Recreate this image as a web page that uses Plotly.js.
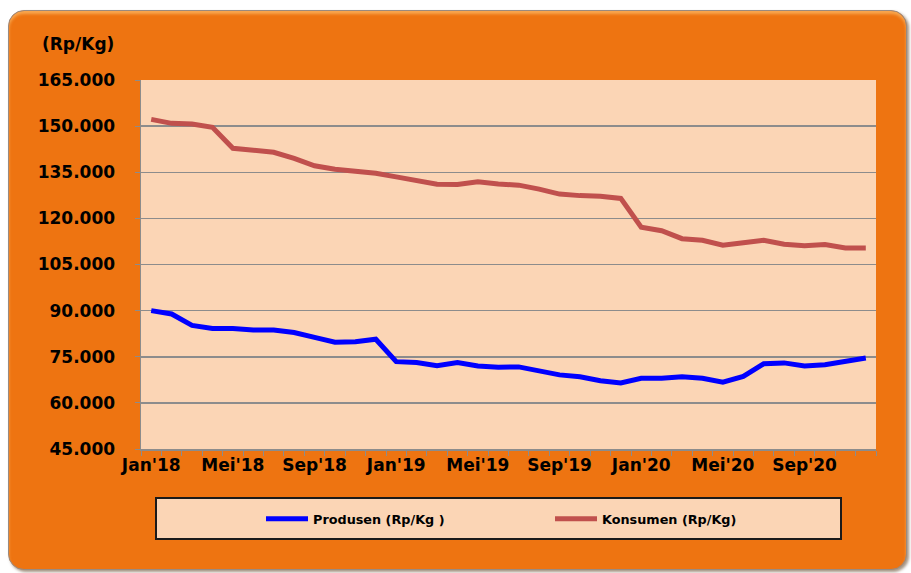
<!DOCTYPE html>
<html>
<head>
<meta charset="utf-8">
<script src="https://cdn.plot.ly/plotly-3.0.1.min.js"></script>
<style>
  html, body { margin: 0; padding: 0; background: #ffffff; }
  #frame {
    position: absolute; left: 8px; top: 10px; width: 899px; height: 560px;
    background: #EE7411; border-radius: 16px; border: 1px solid #9a8a80;
    box-shadow: 2px 2px 3px rgba(90,60,30,0.55), inset 0 3px 3px rgba(255,200,120,0.6);
    box-sizing: border-box;
  }
  #chart { position: absolute; left: 0; top: 0; width: 911px; height: 573px; }
</style>
</head>
<body>
<div id="frame"></div>
<div id="chart"></div>
<script>
// Months Jan 2018 .. Dec 2020
const months = [
  "Jan'18","Feb'18","Mar'18","Apr'18","Mei'18","Jun'18","Jul'18","Agu'18","Sep'18","Okt'18","Nov'18","Des'18",
  "Jan'19","Feb'19","Mar'19","Apr'19","Mei'19","Jun'19","Jul'19","Agu'19","Sep'19","Okt'19","Nov'19","Des'19",
  "Jan'20","Feb'20","Mar'20","Apr'20","Mei'20","Jun'20","Jul'20","Agu'20","Sep'20","Okt'20","Nov'20","Des'20"
];
const tickLabels = ["Jan'18","Mei'18","Sep'18","Jan'19","Mei'19","Sep'19","Jan'20","Mei'20","Sep'20"];

const produsen = [
  90000, 88900, 85200, 84200, 84200, 83700, 83700, 82900, 81300, 79700, 79900, 80700,
  73400, 73100, 72100, 73100, 72000, 71600, 71700, 70300, 69100, 68500, 67200, 66500,
  68000, 68000, 68500, 68000, 66700, 68600, 72700, 73000, 72000, 72400, 73300, 74600
];
const konsumen = [
  152200, 150900, 150700, 149600, 142800, 142200, 141500, 139500, 137100, 136000, 135300, 134700,
  133500, 132200, 131100, 131000, 131900, 131200, 130800, 129500, 127900, 127400, 127200, 126500,
  117100, 116000, 113400, 112900, 111300, 112100, 112900, 111600, 111100, 111500, 110400, 110400
];

const seriesNames = ["Produsen (Rp/Kg )", "Konsumen (Rp/Kg)"];
const yTicks = [45000, 60000, 75000, 90000, 105000, 120000, 135000, 150000, 165000];

const fontFam = "'DejaVu Sans', Verdana, sans-serif";

const traces = [
  { x: months, y: produsen, name: seriesNames[0], type: 'scatter', mode: 'lines',
    line: { color: '#0000FF', width: 5 }, legend: 'legend' },
  { x: months, y: konsumen, name: seriesNames[1], type: 'scatter', mode: 'lines',
    line: { color: '#C0504D', width: 5 }, legend: 'legend2' }
];

const PW = 735, PH = 369, PL = 141, PB = 449;
const px2x = p => (p - PL) / PW;
const px2y = p => (PB - p) / PH;

const legendBase = {
  orientation: 'h',
  xref: 'paper', yref: 'paper',
  xanchor: 'left', yanchor: 'middle',
  bgcolor: 'rgba(0,0,0,0)', borderwidth: 0,
  itemwidth: 42,
  font: { family: fontFam, size: 12.8, color: '#000', weight: 'bold' }
};

const layout = {
  width: 911, height: 573,
  margin: { l: 141, r: 35, t: 80, b: 124 },
  paper_bgcolor: 'rgba(0,0,0,0)',
  plot_bgcolor: '#FBD5B5',
  separators: ',.',
  showlegend: true,
  font: { family: fontFam, color: '#000000' },
  xaxis: {
    type: 'category',
    categoryorder: 'array', categoryarray: months,
    range: [-0.5, months.length - 0.5],
    tickmode: 'array',
    tickvals: months,
    ticktext: months.map(m => tickLabels.includes(m) ? m : ''),
    tickson: 'boundaries',
    ticks: 'outside', ticklen: 5, tickcolor: '#8c8c8c', tickwidth: 1,
    showgrid: false, showline: true, linecolor: '#8c8c8c', linewidth: 1.5,
    tickangle: 0,
    tickfont: { family: fontFam, size: 17, color: '#000', weight: 'bold' },
    zeroline: false, fixedrange: true
  },
  yaxis: {
    range: [45000, 165000],
    tickmode: 'array', tickvals: yTicks,
    tickformat: ',d',
    ticks: 'outside', ticklen: 5, tickcolor: '#8c8c8c', tickwidth: 1,
    showgrid: true, gridcolor: '#8c8c8c', gridwidth: 1.5,
    showline: true, linecolor: '#8c8c8c', linewidth: 1.5,
    tickfont: { family: fontFam, size: 17, color: '#000', weight: 'bold' },
    ticklabelstandoff: 16,
    zeroline: false, fixedrange: true
  },
  legend: Object.assign({}, legendBase, { x: px2x(261), y: px2y(519) }),
  legend2: Object.assign({}, legendBase, { x: px2x(550), y: px2y(519) }),
  shapes: [
    { type: 'rect', xref: 'paper', yref: 'paper',
      x0: px2x(156), x1: px2x(841),
      y0: px2y(498), y1: px2y(539),
      fillcolor: '#FBD5B5', line: { color: '#1a1a1a', width: 2 }, layer: 'below' }
  ],
  annotations: [
    { text: '(Rp/Kg)', xref: 'paper', yref: 'paper', x: px2x(40), y: px2y(44),
      xanchor: 'left', yanchor: 'middle', showarrow: false,
      font: { family: fontFam, size: 17, color: '#000', weight: 'bold' } }
  ]
};

Plotly.newPlot('chart', traces, layout, { displayModeBar: false, staticPlot: true });
</script>
</body>
</html>
